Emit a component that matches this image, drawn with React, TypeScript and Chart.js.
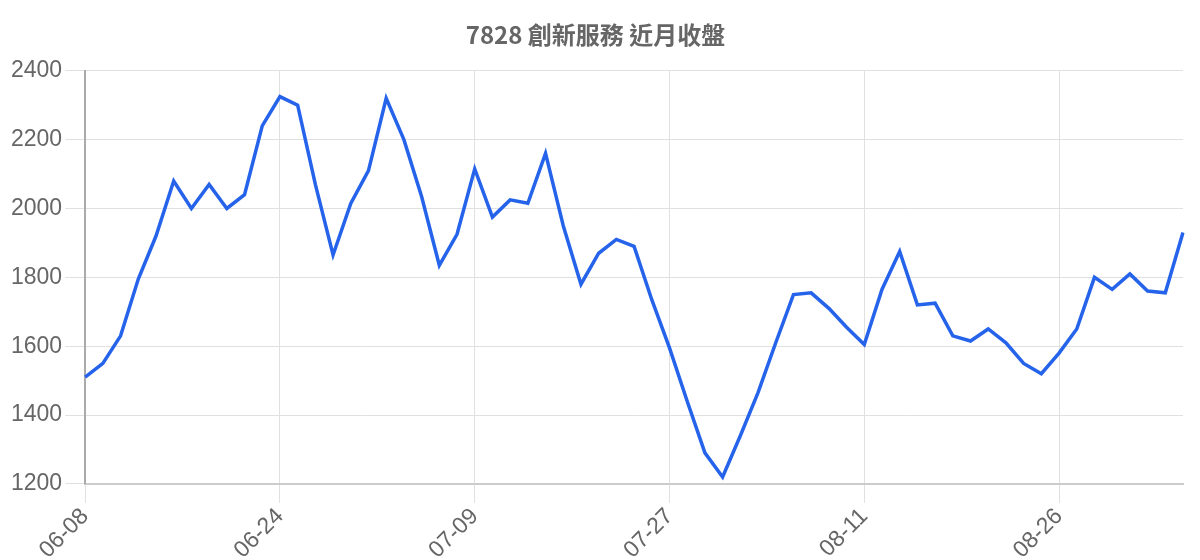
import { useEffect, useRef } from 'react'
import { Chart, registerables } from 'chart.js'

Chart.register(...registerables)

const TITLE = '7828 創新服務 近月收盤'

const DATES = [
  '06-08', '06-09', '06-10', '06-11', '06-12', '06-15', '06-16', '06-17', '06-18', '06-22', '06-23',
  '06-24', '06-25', '06-26', '06-29', '06-30', '07-01', '07-02', '07-03', '07-06', '07-07', '07-08',
  '07-09', '07-10', '07-13', '07-14', '07-15', '07-16', '07-17', '07-20', '07-21', '07-22', '07-24',
  '07-27', '07-28', '07-29', '07-30', '07-31', '08-03', '08-04', '08-05', '08-06', '08-07', '08-10',
  '08-11', '08-12', '08-13', '08-14', '08-17', '08-18', '08-19', '08-20', '08-21', '08-24', '08-25',
  '08-26', '08-27', '08-28', '08-31', '09-01', '09-02', '09-03', '09-04',
]

const CLOSES = [
  1510, 1550, 1630, 1795, 1920, 2080, 2000, 2070, 2000, 2040, 2240,
  2325, 2300, 2070, 1865, 2015, 2110, 2320, 2200, 2035, 1835, 1925,
  2115, 1975, 2025, 2015, 2160, 1950, 1780, 1870, 1910, 1890, 1735,
  1595, 1440, 1290, 1220, 1340, 1465, 1610, 1750, 1755, 1710, 1655,
  1605, 1765, 1875, 1720, 1725, 1630, 1615, 1650, 1610, 1550, 1520,
  1580, 1650, 1800, 1765, 1810, 1760, 1755, 1930,
]

const Y_MIN = 1200
const Y_MAX = 2400
const Y_STEP = 200
const LABEL_EVERY = 11

export default function App() {
  const canvasRef = useRef<HTMLCanvasElement>(null)
  const chartRef = useRef<Chart | null>(null)

  useEffect(() => {
    if (!canvasRef.current) return
    if (chartRef.current) chartRef.current.destroy()

    chartRef.current = new Chart(canvasRef.current, {
      type: 'line',
      data: {
        labels: DATES,
        datasets: [
          {
            label: '收盤',
            data: CLOSES,
            borderColor: '#2563eb',
            backgroundColor: '#2563eb',
            borderWidth: 3.5,
            pointRadius: 0,
            tension: 0,
            fill: false,
          },
        ],
      },
      options: {
        responsive: true,
        maintainAspectRatio: false,
        animation: false,
        layout: { padding: { right: 9 } },
        plugins: {
          legend: { display: false },
          title: {
            display: true,
            text: TITLE,
            color: '#666',
            font: { size: 24, weight: 'bold', family: '"Noto Sans CJK TC", sans-serif' },
            padding: { top: 12, bottom: 22 },
          },
          tooltip: { enabled: false },
        },
        scales: {
          x: {
            border: { color: '#ccc', width: 2 },
            grid: { color: '#e0e0e0', tickLength: 19 },
            ticks: {
              color: '#666',
              font: { size: 23 },
              padding: 0,
              autoSkip: false,
              maxRotation: 45,
              minRotation: 45,
              callback: (_v, i) => (i % LABEL_EVERY === 0 ? DATES[i] : null),
            },
          },
          y: {
            min: Y_MIN,
            max: Y_MAX,
            border: { color: '#aaa', width: 2 },
            grid: { color: '#e0e0e0', tickLength: 20 },
            ticks: {
              color: '#666',
              font: { size: 23 },
              stepSize: Y_STEP,
              callback: (v) => String(v),
            },
          },
        },
      },
    })

    return () => { chartRef.current?.destroy() }
  }, [])

  return (
    <div style={{ height: 556 }}>
      <canvas ref={canvasRef} />
    </div>
  )
}
